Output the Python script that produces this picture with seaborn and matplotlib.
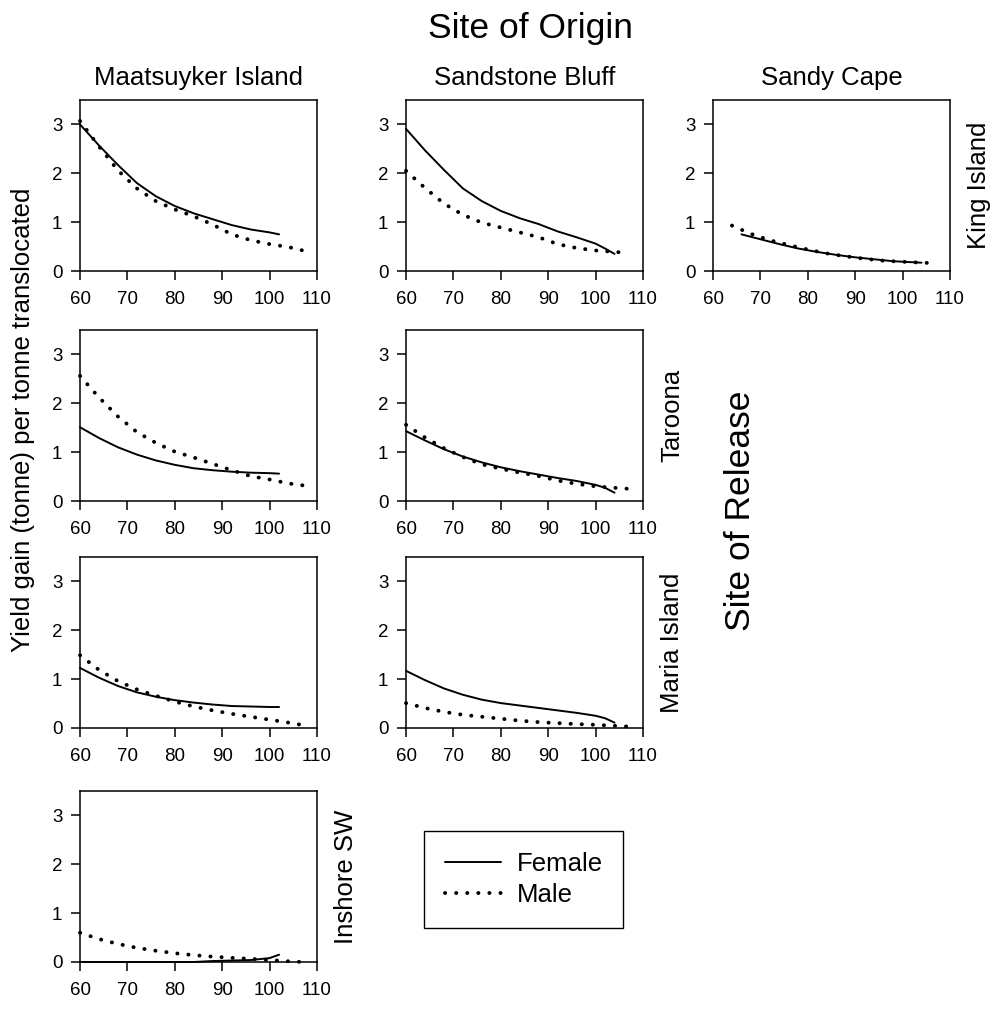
import matplotlib
matplotlib.use("Agg")
import matplotlib.pyplot as plt
from matplotlib.lines import Line2D
import pandas as pd
import seaborn as sns

# site names
origins = ["Maatsuyker Island", "Sandstone Bluff", "Sandy Cape"]
releases = ["King Island", "Taroona", "Maria Island", "Inshore SW"]

# sizes (mm) where the curves were read
size_male = [60, 64, 68, 72, 76, 80, 84, 88, 92, 96, 100, 104, 107]
size_male_sc = [64, 68, 72, 76, 80, 84, 88, 92, 96, 100, 104, 107]
size_fem_mi = [60, 64, 68, 72, 76, 80, 84, 88, 92, 96, 100, 102]
size_fem_sb = [60, 64, 68, 72, 76, 80, 84, 88, 92, 96, 100, 102, 104]
size_fem_sc = [66, 70, 74, 78, 82, 86, 90, 94, 98, 102, 104]

# yield gain per tonne translocated, release x origin
ki_mi_f = [3.00, 2.57, 2.17, 1.80, 1.53, 1.33, 1.18, 1.06, 0.94, 0.85, 0.79, 0.75]
ki_mi_m = [3.07, 2.55, 2.06, 1.69, 1.43, 1.26, 1.12, 0.95, 0.75, 0.63, 0.55, 0.49, 0.42]
ki_sb_f = [2.91, 2.47, 2.07, 1.69, 1.43, 1.23, 1.08, 0.96, 0.81, 0.69, 0.56, 0.46, 0.35]
ki_sb_m = [2.05, 1.70, 1.38, 1.15, 0.99, 0.89, 0.79, 0.69, 0.55, 0.47, 0.42, 0.39, 0.37]
ki_sc_f = [0.75, 0.65, 0.55, 0.46, 0.39, 0.33, 0.28, 0.24, 0.20, 0.18, 0.17]
ki_sc_m = [0.93, 0.76, 0.63, 0.53, 0.44, 0.36, 0.30, 0.25, 0.21, 0.19, 0.17, 0.16]
ta_mi_f = [1.51, 1.29, 1.10, 0.95, 0.83, 0.74, 0.67, 0.63, 0.60, 0.58, 0.57, 0.56]
ta_mi_m = [2.56, 2.12, 1.73, 1.41, 1.19, 1.01, 0.89, 0.76, 0.63, 0.51, 0.44, 0.36, 0.32]
ta_sb_f = [1.43, 1.24, 1.06, 0.91, 0.79, 0.69, 0.61, 0.54, 0.47, 0.41, 0.33, 0.27, 0.17]
ta_sb_m = [1.56, 1.30, 1.08, 0.90, 0.75, 0.66, 0.58, 0.51, 0.42, 0.35, 0.30, 0.27, 0.25]
ma_mi_f = [1.23, 1.03, 0.86, 0.73, 0.64, 0.57, 0.52, 0.48, 0.45, 0.44, 0.43, 0.43]
ma_mi_m = [1.49, 1.19, 0.96, 0.79, 0.66, 0.54, 0.44, 0.36, 0.29, 0.23, 0.17, 0.11, 0.06]
ma_sb_f = [1.17, 0.98, 0.81, 0.68, 0.58, 0.51, 0.46, 0.41, 0.36, 0.31, 0.25, 0.20, 0.11]
ma_sb_m = [0.51, 0.41, 0.33, 0.27, 0.23, 0.19, 0.15, 0.12, 0.10, 0.08, 0.065, 0.045, 0.03]
in_mi_f = [0, 0, 0, 0, 0, 0, 0, 0.02, 0.03, 0.04, 0.08, 0.15]
in_mi_m = [0.60, 0.47, 0.37, 0.29, 0.23, 0.18, 0.14, 0.11, 0.085, 0.065, 0.04, 0.015, 0.0]

rows = []


def add(release, origin, sex, sizes, vals):
    for s, v in zip(sizes, vals):
        rows.append({"release": release, "origin": origin, "sex": sex, "size": s, "gain": v})


add("King Island", "Maatsuyker Island", "Female", size_fem_mi, ki_mi_f)
add("King Island", "Maatsuyker Island", "Male", size_male, ki_mi_m)
add("King Island", "Sandstone Bluff", "Female", size_fem_sb, ki_sb_f)
add("King Island", "Sandstone Bluff", "Male", size_male, ki_sb_m)
add("King Island", "Sandy Cape", "Female", size_fem_sc, ki_sc_f)
add("King Island", "Sandy Cape", "Male", size_male_sc, ki_sc_m)
add("Taroona", "Maatsuyker Island", "Female", size_fem_mi, ta_mi_f)
add("Taroona", "Maatsuyker Island", "Male", size_male, ta_mi_m)
add("Taroona", "Sandstone Bluff", "Female", size_fem_sb, ta_sb_f)
add("Taroona", "Sandstone Bluff", "Male", size_male, ta_sb_m)
add("Maria Island", "Maatsuyker Island", "Female", size_fem_mi, ma_mi_f)
add("Maria Island", "Maatsuyker Island", "Male", size_male, ma_mi_m)
add("Maria Island", "Sandstone Bluff", "Female", size_fem_sb, ma_sb_f)
add("Maria Island", "Sandstone Bluff", "Male", size_male, ma_sb_m)
add("Inshore SW", "Maatsuyker Island", "Female", size_fem_mi, in_mi_f)
add("Inshore SW", "Maatsuyker Island", "Male", size_male, in_mi_m)

data = pd.DataFrame(rows)

sns.set_style("ticks")
plt.rcParams["font.family"] = ["Liberation Sans", "DejaVu Sans"]
plt.rcParams["text.color"] = "black"
plt.rcParams["axes.labelcolor"] = "black"
plt.rcParams["xtick.color"] = "black"
plt.rcParams["ytick.color"] = "black"

W, H = 997, 1010
fig = plt.figure(figsize=(W / 100, H / 100), dpi=100)

col_left = [80, 406, 713]
row_top = [100, 330, 557, 791]
pw, ph = 237, 171

line_kw = {
    "Female": dict(linestyle="-", linewidth=1.4),
    "Male": dict(linestyle=(0, (0.05, 2.8)), linewidth=2.8, dash_capstyle="round"),
}

for r, rel in enumerate(releases):
    for c, org in enumerate(origins):
        D = data[(data["release"] == rel) & (data["origin"] == org)]
        if D.empty:
            continue
        ax = fig.add_axes([col_left[c] / W, 1 - (row_top[r] + ph) / H, pw / W, ph / H])
        for sex in ["Female", "Male"]:
            sns.lineplot(
                data=D[D["sex"] == sex],
                x="size",
                y="gain",
                ax=ax,
                color="black",
                errorbar=None,
                clip_on=False,
                **line_kw[sex],
            )
        ax.set(xlim=(60, 110), ylim=(0, 3.5), xlabel="", ylabel="")
        ax.set_xticks([60, 70, 80, 90, 100, 110])
        ax.set_yticks([0, 1, 2, 3])
        ax.tick_params(direction="out", length=6.7, width=1.1, labelsize=13.5,
                       colors="black", top=False, right=False)
        ax.tick_params(axis="y", pad=6)
        ax.tick_params(axis="x", pad=8)
        for sp in ax.spines.values():
            sp.set_visible(True)
            sp.set_linewidth(1.1)
            sp.set_color("black")

# column titles (site of origin)
for c, org in enumerate(origins):
    fig.text((col_left[c] + pw / 2) / W, 1 - 85 / H, org, ha="center", va="baseline",
             fontsize=18.5)

# row labels (site of release), at right of last panel in each row
row_last_col = [2, 1, 1, 0]
for r, rel in enumerate(releases):
    xr = col_left[row_last_col[r]] + pw + 29
    fig.text(xr / W, 1 - (row_top[r] + ph / 2) / H, rel, rotation=90,
             ha="center", va="center", fontsize=18.5)

fig.text(530 / W, 1 - 38 / H, "Site of Origin", ha="center", va="baseline", fontsize=25.5)
fig.text(740 / W, 1 - 511 / H, "Site of Release", rotation=90, ha="center", va="center",
         fontsize=25.5)
fig.text(23 / W, 1 - 420 / H, "Yield gain (tonne) per tonne translocated", rotation=90,
         ha="center", va="center", fontsize=18.5)

handles = [
    Line2D([], [], color="black", **line_kw["Female"]),
    Line2D([], [], color="black", **line_kw["Male"]),
]
leg = fig.legend(
    handles,
    ["Female", "Male"],
    loc="upper left",
    bbox_to_anchor=(424 / W, 1 - 831 / H),
    bbox_transform=fig.transFigure,
    fontsize=18.5,
    frameon=True,
    fancybox=False,
    edgecolor="black",
    framealpha=1,
    handlelength=2.2,
    handletextpad=0.6,
    labelspacing=0.3,
    borderpad=0.8,
    borderaxespad=0,
)
leg.get_frame().set_linewidth(1.0)

fig.savefig("out.png", dpi=100)
